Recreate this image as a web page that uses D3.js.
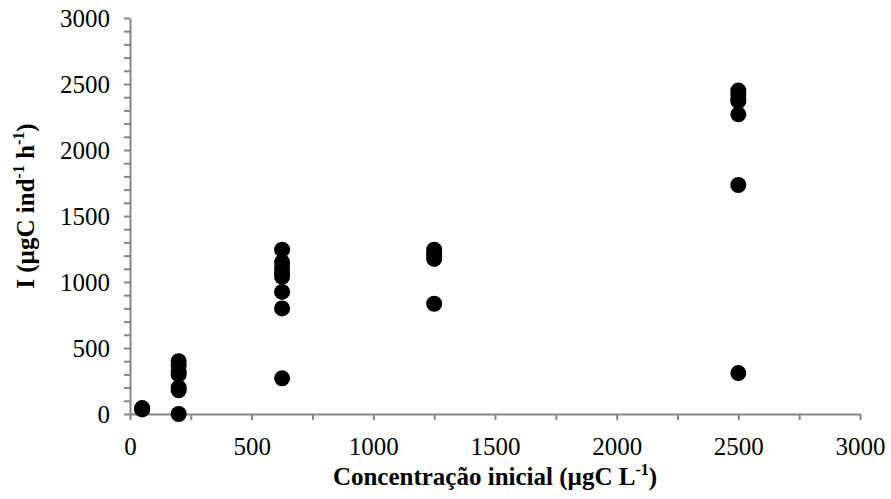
<!DOCTYPE html>
<html>
<head>
<meta charset="utf-8">
<script src="https://cdn.jsdelivr.net/npm/d3@7"></script>
<style>
  body { margin: 0; background: #fff; }
  svg text { font-family: "Liberation Serif", "Times New Roman", serif; fill: #000; }
</style>
</head>
<body>
<svg id="chart" width="891" height="499"></svg>
<script>
// ===== datos =====
var concentracion = [50, 50, 50,
  200, 200, 200, 200, 200, 200, 200,
  625, 625, 625, 625, 625, 625, 625, 625,
  1250, 1250, 1250, 1250, 1250,
  2500, 2500, 2500, 2500, 2500, 2500, 2500];
var ingestion = [35, 40, 45,
  400, 370, 320, 300, 200, 180, 0,
  1245, 1150, 1110, 1070, 1040, 925, 800, 270,
  1245, 1220, 1195, 1175, 835,
  2450, 2420, 2390, 2370, 2270, 1735, 310];
var xTicks = [0, 500, 1000, 1500, 2000, 2500, 3000];
var yTicks = [0, 500, 1000, 1500, 2000, 2500, 3000];

var svg = d3.select('#chart');
var mLeft = 130, mRight = 860, mTop = 18, mBottom = 414;
var axisColor = '#868686';
var fs = 25;

var x = d3.scaleLinear().domain([0, 3000]).range([mLeft, mRight]);
var y = d3.scaleLinear().domain([0, 3000]).range([mBottom, mTop]);

// ===== eje x =====
var gx = svg.append('g').attr('transform', 'translate(0,' + mBottom + ')')
  .call(d3.axisBottom(x).tickValues(d3.range(0, 3001, 250)).tickSize(6).tickSizeOuter(0)
    .tickFormat(function(d) { return xTicks.indexOf(d) >= 0 ? d : ''; }));
gx.select('.domain').attr('stroke', axisColor).attr('stroke-width', 2);
gx.selectAll('.tick line').attr('stroke', axisColor).attr('stroke-width', 2);
gx.selectAll('.tick text').attr('font-size', fs).attr('dy', 0).attr('y', 41)
  .style('font-family', '"Liberation Serif", serif');

// ===== eje y =====
var gy = svg.append('g').attr('transform', 'translate(' + mLeft + ',0)')
  .call(d3.axisLeft(y).tickValues(d3.range(0, 3001, 100)).tickSize(6).tickSizeOuter(0)
    .tickFormat(function(d) { return yTicks.indexOf(d) >= 0 ? d : ''; }));
gy.select('.domain').attr('stroke', axisColor).attr('stroke-width', 2);
gy.selectAll('.tick line').attr('stroke', axisColor).attr('stroke-width', 2);
gy.selectAll('.tick text').attr('font-size', fs).attr('x', -20).attr('dy', '0.33em')
  .style('font-family', '"Liberation Serif", serif');

// ===== puntos =====
svg.append('g').selectAll('circle')
  .data(concentracion)
  .enter().append('circle')
    .attr('cx', function(d) { return x(d); })
    .attr('cy', function(d, i) { return y(ingestion[i]); })
    .attr('r', 8)
    .attr('fill', '#000');

// ===== titulos =====
var xt = svg.append('text')
  .attr('x', (mLeft + mRight) / 2).attr('y', 485)
  .attr('text-anchor', 'middle')
  .attr('font-size', fs).attr('font-weight', 'bold');
xt.append('tspan').text('Concentração inicial (µgC L');
xt.append('tspan').attr('font-size', 16).attr('dy', -10).text('-1');
xt.append('tspan').attr('dy', 10).text(')');

var yt = svg.append('text')
  .attr('transform', 'translate(34,' + ((mTop + mBottom) / 2 - 10) + ') rotate(-90)')
  .attr('text-anchor', 'middle')
  .attr('font-size', fs).attr('font-weight', 'bold');
yt.append('tspan').text('I (µgC ind');
yt.append('tspan').attr('font-size', 16).attr('dy', -10).text('-1');
yt.append('tspan').attr('dy', 10).text(' h');
yt.append('tspan').attr('font-size', 16).attr('dy', -10).text('-1');
yt.append('tspan').attr('dy', 10).text(')');
</script>
</body>
</html>
